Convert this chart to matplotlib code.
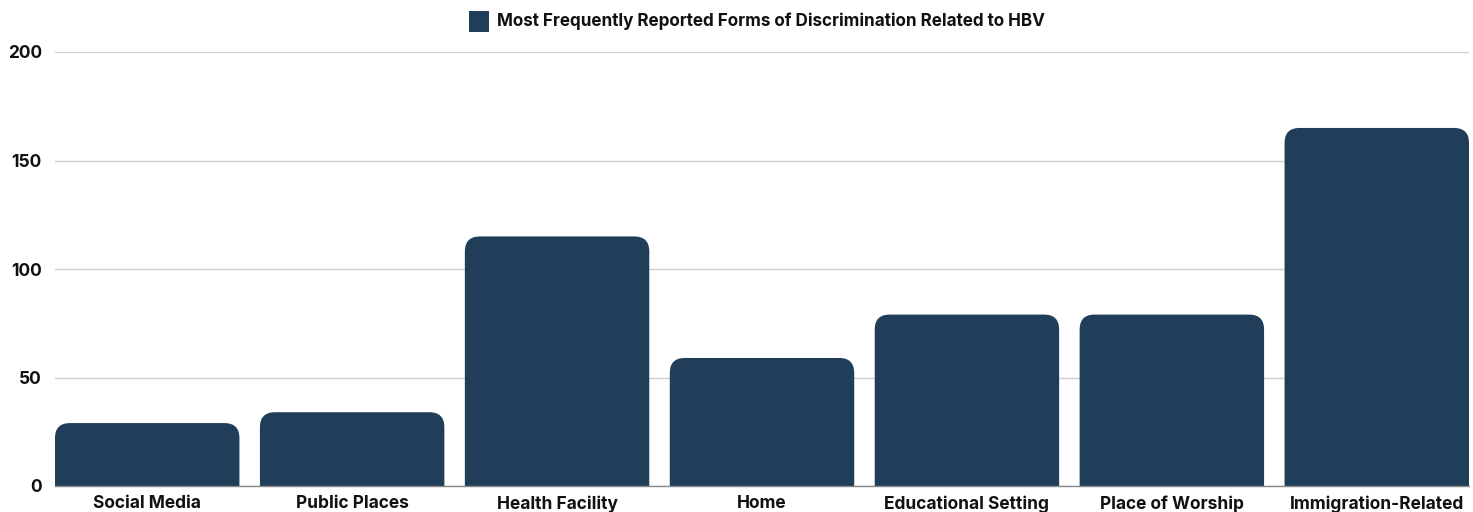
import matplotlib
matplotlib.use("Agg")
import matplotlib.pyplot as plt
from matplotlib.patches import FancyBboxPatch, Rectangle

plt.rcParams['font.family'] = ['Inter', 'DejaVu Sans']

categories = ["Social Media", "Public Places", "Health Facility", "Home",
              "Educational Setting", "Place of Worship", "Immigration-Related"]
values = [29, 34, 115, 59, 79, 79, 165]
series_name = "Most Frequently Reported Forms of Discrimination Related to HBV"
yticks = [0, 50, 100, 150, 200]
color = "#203d5a"

W, H = 1473, 512
fig = plt.figure(figsize=(W / 100, H / 100), dpi=100)
left, right, bottom, top = 55, 1469, 486, 52
ax = fig.add_axes([left / W, 1 - bottom / H, (right - left) / W, (bottom - top) / H])

bw = 0.9
ax.set_xlim(-bw / 2, len(categories) - 1 + bw / 2)
ax.set_ylim(0, 200)

xpp = (len(categories) - 1 + bw) / (right - left)
ypp = 200 / (bottom - top)
rpx = 15
rx = rpx * xpp
ry = rpx * ypp

for i, v in enumerate(values):
    p = FancyBboxPatch((i - bw / 2 + rx, 0), bw - 2 * rx, v - ry,
                       boxstyle=f"round,pad={rx},rounding_size={rx}",
                       mutation_aspect=ypp / xpp,
                       facecolor=color, edgecolor="none", clip_on=True, zorder=3)
    ax.add_patch(p)

ax.set_yticks(yticks)
ax.set_yticklabels([str(t) for t in yticks], fontsize=12.5, fontweight='bold', color='#111111')
ax.set_xticks(range(len(categories)))
ax.set_xticklabels(categories, fontsize=12.5, fontweight='bold', color='#111111')
ax.tick_params(axis='both', length=0)
ax.tick_params(axis='y', pad=9.5)
ax.tick_params(axis='x', pad=6.5)
ax.grid(axis='y', color='#d0d0d0', linewidth=1, zorder=0)
for s in ['top', 'right', 'left']:
    ax.spines[s].set_visible(False)
ax.spines['bottom'].set_color('#888888')
ax.spines['bottom'].set_linewidth(1)
ax.spines['bottom'].set_zorder(4)

fig.patches.append(Rectangle((469 / W, 1 - 32 / H), 20 / W, 21 / H, transform=fig.transFigure,
                             facecolor=color, edgecolor='none'))
fig.text(497 / W, 1 - 21 / H, series_name, fontsize=12.3, fontweight='bold',
         color='#111111', va='center', ha='left')

fig.savefig("out.png", dpi=100, facecolor='white')
